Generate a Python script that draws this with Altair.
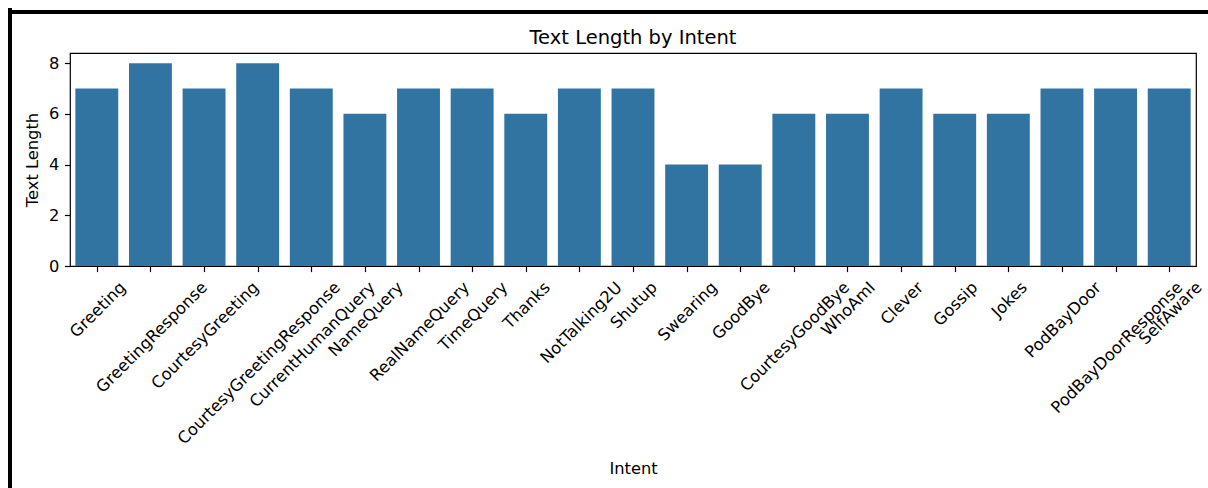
import altair as alt
import pandas as pd

# Intent categories and the text length measured for each one
intents = [
    "Greeting", "GreetingResponse", "CourtesyGreeting", "CourtesyGreetingResponse",
    "CurrentHumanQuery", "NameQuery", "RealNameQuery", "TimeQuery", "Thanks",
    "NotTalking2U", "Shutup", "Swearing", "GoodBye", "CourtesyGoodBye", "WhoAmI",
    "Clever", "Gossip", "Jokes", "PodBayDoor", "PodBayDoorResponse", "SelfAware",
]
text_length = [7, 8, 7, 8, 7, 6, 7, 7, 6, 7, 7, 4, 4, 6, 6, 7, 6, 6, 7, 7, 7]
y_ticks = [0, 2, 4, 6, 8]
chart_title = "Text Length by Intent"

FONT = "DejaVu Sans"
PLOT_W, PLOT_H = 1126, 213
LEFT, TOP = 70, 53
FS = 16.3            # tick/axis label size
LINE_H = 1.164 * FS  # text line box height
TICK = 5.6
BLUE = "#3274a1"

# DejaVu Sans advance widths (font units per 2048 em) for label layout
_ADV = {
    "A": 1401, "B": 1405, "C": 1430, "D": 1577, "E": 1294, "F": 1178, "G": 1587,
    "H": 1540, "I": 604, "J": 604, "K": 1343, "L": 1141, "M": 1767, "N": 1532,
    "O": 1612, "P": 1235, "Q": 1612, "R": 1423, "S": 1300, "T": 1251, "U": 1499,
    "V": 1401, "W": 2025, "X": 1403, "Y": 1251, "Z": 1403,
    "a": 1255, "b": 1300, "c": 1126, "d": 1300, "e": 1260, "f": 721, "g": 1300,
    "h": 1298, "i": 569, "j": 569, "k": 1186, "l": 569, "m": 1995, "n": 1298,
    "o": 1253, "p": 1300, "q": 1300, "r": 842, "s": 1067, "t": 803, "u": 1298,
    "v": 1212, "w": 1675, "x": 1212, "y": 1212, "z": 1075, " ": 651,
}


def text_width(s, size=FS):
    return sum(_ADV.get(ch, 1303) for ch in s) / 2048 * size


n = len(intents)
step = PLOT_W / n
c45 = 0.7071

df = pd.DataFrame({"intent": intents, "length": text_length, "pos": range(n)})
# 45-degree labels centred under each tick: anchor the end of every label
df["label_x"] = [
    p + c45 * (text_width(s) + LINE_H) / 2 / step for p, s in zip(df["pos"], intents)
]

x_scale = alt.Scale(domain=[-0.5, n - 0.5], nice=False, zero=False, padding=0)
x_axis = alt.Axis(
    values=list(range(n)), labels=False, grid=False, domain=False,
    ticks=True, tickSize=TICK, tickColor="black", tickWidth=1.2,
    title="Intent", titleFont=FONT, titleFontSize=FS, titleFontWeight="normal",
    titleColor="black", titleBaseline="top", titleY=194,
)
y_scale = alt.Scale(domain=[0, 8.4], nice=False, padding=0)
y_axis = alt.Axis(
    values=y_ticks, grid=False, domain=False, tickSize=TICK, tickColor="black",
    tickWidth=1.2, labelPadding=5.6, labelFont=FONT, labelFontSize=FS,
    labelColor="black", title="Text Length", titleFont=FONT, titleFontSize=FS,
    titleFontWeight="normal", titleColor="black", titleBaseline="alphabetic",
    titleX=-33,
)

base = alt.Chart(df)

bars = base.mark_bar(color=BLUE, orient="vertical").transform_calculate(
    x0="datum.pos - 0.4", x1="datum.pos + 0.4"
).encode(
    x=alt.X("x0:Q", scale=x_scale, axis=x_axis),
    x2="x1:Q",
    y=alt.Y("length:Q", scale=y_scale, axis=y_axis),
    y2=alt.datum(0),
)

labels = base.mark_text(
    angle=315, align="right", baseline="bottom", font=FONT, fontSize=FS, color="black"
).encode(
    x=alt.X("label_x:Q", scale=x_scale, axis=x_axis),
    y=alt.value(PLOT_H + 2 * TICK + c45 * LINE_H),
    text="intent:N",
)

single = alt.Data(values=[{"title": chart_title}])

# chart title, centred over the plot area
title = alt.Chart(single).mark_text(
    font=FONT, fontSize=19.5, color="black", align="center", baseline="alphabetic"
).encode(
    x=alt.value(PLOT_W / 2), y=alt.value(43.5 - TOP), text="title:N"
)

# outer black frame along the left and top edges of the figure
frame_left = alt.Chart(single).mark_rule(color="black", strokeWidth=4).encode(
    x=alt.value(10 - LEFT), y=alt.value(8 - TOP), y2=alt.value(488 - TOP + 5)
)
frame_top = alt.Chart(single).mark_rule(color="black", strokeWidth=4).encode(
    y=alt.value(12 - TOP), x=alt.value(8 - LEFT), x2=alt.value(1208 - LEFT + 5)
)

chart = alt.layer(bars, labels, title, frame_left, frame_top).properties(
    width=PLOT_W,
    height=PLOT_H,
    autosize=alt.AutoSizeParams(type="none"),
    padding={"left": LEFT, "top": TOP, "right": 1208 - LEFT - PLOT_W,
             "bottom": 488 - TOP - PLOT_H},
    background="white",
).configure_view(stroke="black", strokeWidth=1.2)

chart.save("out.html", embed_options={"renderer": "svg", "actions": False})
